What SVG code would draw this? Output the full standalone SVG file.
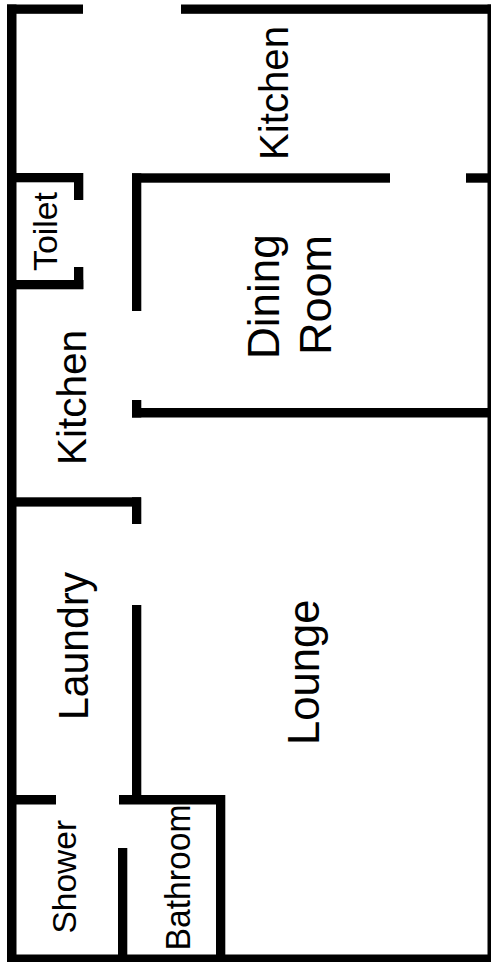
<svg xmlns="http://www.w3.org/2000/svg" width="491" height="962" viewBox="0 0 491 962">
<style>
.w{fill:#000}
.t{font-family:"Liberation Sans",Arial,sans-serif;fill:#000}
</style>
<rect width="491" height="962" fill="#fff"/>
<g id="walls" class="w">
<rect x="7" y="4.5" width="9.5" height="957.5"/>
<rect x="7" y="4.5" width="76" height="9.3"/>
<rect x="181" y="4.5" width="310" height="9.3"/>
<rect x="487.5" y="4.5" width="3.5" height="957.5"/>
<rect x="7" y="954.5" width="484" height="7.5"/>
<rect x="132" y="173.3" width="258" height="9.4"/>
<rect x="466" y="173.3" width="25" height="9.4"/>
<rect x="132" y="173.3" width="9.3" height="137.7"/>
<rect x="7" y="173" width="76" height="9.3"/>
<rect x="74" y="173" width="9.3" height="27"/>
<rect x="74" y="267" width="9.3" height="22"/>
<rect x="7" y="280" width="76.3" height="9.3"/>
<rect x="132" y="400" width="9.3" height="17.5"/>
<rect x="132" y="408" width="359" height="9.5"/>
<rect x="7" y="497.3" width="134" height="9.3"/>
<rect x="132" y="497.3" width="9.3" height="26.7"/>
<rect x="132" y="605" width="9.3" height="195"/>
<rect x="7" y="795" width="49" height="9.5"/>
<rect x="119" y="795" width="106" height="9.5"/>
<rect x="216" y="795" width="9.3" height="160"/>
<rect x="118" y="848" width="9.3" height="107"/>
</g>
<g id="labels" class="t">
<text id="kitchen-top" transform="translate(288 160) rotate(-90)" font-size="41" textLength="134" lengthAdjust="spacingAndGlyphs">Kitchen</text>
<text id="kitchen-left" transform="translate(86 465) rotate(-90)" font-size="41" textLength="135" lengthAdjust="spacingAndGlyphs">Kitchen</text>
<text id="toilet" transform="translate(57 271) rotate(-90)" font-size="34" textLength="79" lengthAdjust="spacingAndGlyphs">Toilet</text>
<text id="dining" transform="translate(279 359) rotate(-90)" font-size="44">Dining</text>
<text id="room" transform="translate(331 355) rotate(-90)" font-size="45">Room</text>
<text id="lounge" transform="translate(319 745) rotate(-90)" font-size="44.5" textLength="145.5" lengthAdjust="spacingAndGlyphs">Lounge</text>
<text id="laundry" transform="translate(88 720) rotate(-90)" font-size="42" textLength="148" lengthAdjust="spacingAndGlyphs">Laundry</text>
<text id="shower" transform="translate(76 933.5) rotate(-90)" font-size="33.5">Shower</text>
<text id="bathroom" transform="translate(190 950.5) rotate(-90)" font-size="34.5" textLength="146" lengthAdjust="spacingAndGlyphs">Bathroom</text>
</g>
</svg>
